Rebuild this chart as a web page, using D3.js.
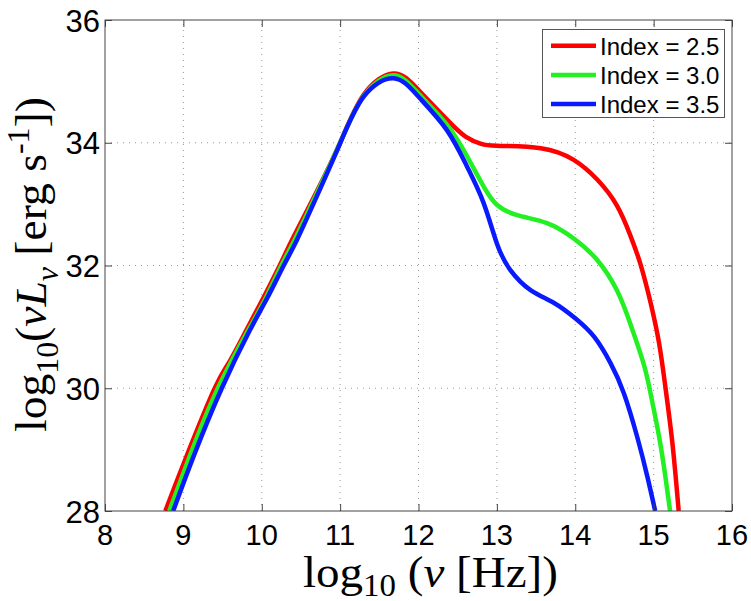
<!DOCTYPE html>
<html>
<head>
<meta charset="utf-8">
<script src="https://cdn.jsdelivr.net/npm/d3@7"></script>
<style>
  body { margin: 0; background: #fff; }
  svg { display: block; }
</style>
</head>
<body>
<div id="chart"></div>
<script>
// series: log10(nu) and log10(nu L_nu)
var redX   = [8.77, 9.04, 9.40, 9.60, 9.85, 10.02, 10.21, 10.40, 10.70, 11.00, 11.30, 11.68, 12.00, 12.36, 12.60, 12.80, 13.00, 13.56, 13.98, 14.28, 14.53, 14.70, 14.83, 14.96, 15.07, 15.15, 15.24, 15.32];
var redY   = [28.00, 28.89, 30.00, 30.46, 31.06, 31.47, 31.95, 32.45, 33.20, 34.00, 34.78, 35.13, 34.86, 34.38, 34.10, 33.98, 33.95, 33.91, 33.72, 33.40, 32.98, 32.50, 32.03, 31.40, 30.73, 30.02, 29.10, 28.00];
var greenX = [8.82, 9.08, 9.44, 9.85, 10.05, 10.25, 10.42, 10.70, 11.00, 11.30, 11.68, 12.00, 12.36, 12.62, 12.83, 13.00, 13.26, 13.64, 13.98, 14.28, 14.53, 14.70, 14.87, 14.96, 15.07, 15.15, 15.21];
var greenY = [28.00, 28.89, 30.00, 31.00, 31.47, 32.00, 32.42, 33.17, 34.00, 34.76, 35.10, 34.80, 34.30, 33.78, 33.29, 32.99, 32.82, 32.69, 32.44, 32.09, 31.60, 31.06, 30.41, 29.92, 29.21, 28.56, 28.00];
var blueX  = [8.87, 9.13, 9.49, 9.85, 10.07, 10.28, 10.45, 10.70, 11.00, 11.30, 11.68, 12.00, 12.36, 12.62, 12.83, 13.00, 13.17, 13.43, 13.73, 14.00, 14.24, 14.45, 14.62, 14.79, 14.92, 15.02];
var blueY  = [28.00, 28.89, 30.00, 30.95, 31.47, 32.00, 32.42, 33.12, 33.99, 34.75, 35.05, 34.75, 34.21, 33.61, 33.02, 32.36, 31.93, 31.60, 31.39, 31.14, 30.84, 30.41, 29.92, 29.21, 28.56, 28.00];

var seriesNames = ["Index = 2.5", "Index = 3.0", "Index = 3.5"];
var seriesColors = ["#ff0000", "#22f022", "#0a1aff"];
var xTicks = [8, 9, 10, 11, 12, 13, 14, 15, 16];
var yTicks = [28, 30, 32, 34, 36];

var width = 751, height = 601;
var margin = {top: 20, right: 19, bottom: 90, left: 105};
var plotW = width - margin.left - margin.right;   // 627
var plotH = height - margin.top - margin.bottom;  // 491

var svg = d3.select("#chart").append("svg")
    .attr("width", width)
    .attr("height", height);

svg.append("rect").attr("width", width).attr("height", height).attr("fill", "#fff");

var x = d3.scaleLinear().domain([8, 16]).range([margin.left, margin.left + plotW]);
var y = d3.scaleLinear().domain([28, 36]).range([margin.top + plotH, margin.top]);

// dotted grid
var grid = svg.append("g").attr("stroke", "#9a9a9a").attr("stroke-width", 1)
    .attr("stroke-dasharray", "1,5");
xTicks.slice(1, -1).forEach(function(t) {
    grid.append("line").attr("x1", x(t)).attr("x2", x(t))
        .attr("y1", y(28)).attr("y2", y(36));
});
yTicks.slice(1, -1).forEach(function(t) {
    grid.append("line").attr("x1", x(8)).attr("x2", x(16))
        .attr("y1", y(t)).attr("y2", y(t));
});

// curves
svg.append("clipPath").attr("id", "clip").append("rect")
    .attr("x", margin.left).attr("y", margin.top).attr("width", plotW).attr("height", plotH);

var line = d3.line()
    .x(function(d) { return x(d[0]); })
    .y(function(d) { return y(d[1]); })
    .curve(d3.curveNatural);

var series = [d3.zip(redX, redY), d3.zip(greenX, greenY), d3.zip(blueX, blueY)];
var curves = svg.append("g").attr("clip-path", "url(#clip)");
series.forEach(function(s, i) {
    curves.append("path")
        .attr("d", line(s))
        .attr("fill", "none")
        .attr("stroke", seriesColors[i])
        .attr("stroke-width", 4.5)
        .attr("stroke-linejoin", "round");
});

// frame and inward ticks on all four sides
var axisG = svg.append("g");
var tickLen = 7;
axisG.append("g").attr("transform", "translate(0," + y(28) + ")")
    .call(d3.axisTop(x).tickValues(xTicks).tickSize(tickLen).tickFormat(""));
axisG.append("g").attr("transform", "translate(0," + y(36) + ")")
    .call(d3.axisBottom(x).tickValues(xTicks).tickSize(tickLen).tickFormat(""));
axisG.append("g").attr("transform", "translate(" + x(8) + ",0)")
    .call(d3.axisRight(y).tickValues(yTicks).tickSize(tickLen).tickFormat(""));
axisG.append("g").attr("transform", "translate(" + x(16) + ",0)")
    .call(d3.axisLeft(y).tickValues(yTicks).tickSize(tickLen).tickFormat(""));
axisG.selectAll(".domain").remove();
axisG.selectAll(".tick line").attr("stroke", "#444").attr("stroke-width", 1);
svg.append("rect")
    .attr("x", x(8)).attr("y", y(36)).attr("width", plotW).attr("height", plotH)
    .attr("fill", "none").attr("stroke", "#444").attr("stroke-width", 1);

// tick labels
svg.append("g").selectAll("text").data(xTicks).join("text")
    .attr("x", function(d) { return x(d); })
    .attr("y", 545)
    .attr("text-anchor", "middle")
    .attr("font-family", "Liberation Sans, Arial, sans-serif")
    .attr("font-size", 29)
    .text(function(d) { return d; });
svg.append("g").selectAll("text").data(yTicks).join("text")
    .attr("x", 100)
    .attr("y", function(d) { return y(d) + 11.5; })
    .attr("text-anchor", "end")
    .attr("font-family", "Liberation Sans, Arial, sans-serif")
    .attr("font-size", 31)
    .text(function(d) { return d; });

// axis titles (LaTeX-like)
function mathLabel(parts, F, subShift) {
    var t = svg.append("text")
        .attr("font-family", "Liberation Serif, Times New Roman, serif")
        .attr("font-size", F);
    var shift = 0;
    parts.forEach(function(p) {
        var sp = t.append("tspan").text(p.t);
        var target = 0;
        if (p.sub) { sp.attr("font-size", F * 0.7); target = F * subShift; }
        if (p.sup) { sp.attr("font-size", F * 0.7); target = -F * 0.38; }
        if (p.it) sp.attr("font-style", "italic");
        if (target - shift !== 0) sp.attr("dy", target - shift);
        shift = target;
    });
    return t;
}

var xl = mathLabel([
    {t: "log"}, {t: "10", sub: true}, {t: " ("}, {t: "\u03bd", it: true},
    {t: " [Hz]"}, {t: ")"}
], 45, 0.2);
var xw = xl.node().getBBox().width;
xl.attr("transform", "translate(303,587) scale(" + (255 / xw) + ",1)");

var yl = mathLabel([
    {t: "log"}, {t: "10", sub: true}, {t: "("}, {t: "\u03bd", it: true},
    {t: "L", it: true}, {t: "\u03bd", it: true, sub: true}, {t: " [erg s"},
    {t: "-1", sup: true}, {t: "])"}
], 45, 0.26);
var yw = yl.node().getBBox().width;
yl.attr("transform", "translate(46,432) rotate(-90) scale(" + (335 / yw) + ",1)");

// legend
var leg = svg.append("g");
leg.append("rect").attr("x", 542.5).attr("y", 29.5).attr("width", 182).attr("height", 88)
    .attr("fill", "#fff").attr("stroke", "#555").attr("stroke-width", 1);
var legRows = [45.7, 75, 104];
seriesNames.forEach(function(name, i) {
    leg.append("line").attr("x1", 551).attr("x2", 596)
        .attr("y1", legRows[i]).attr("y2", legRows[i])
        .attr("stroke", seriesColors[i]).attr("stroke-width", 4.5);
    leg.append("text").attr("x", 600).attr("y", legRows[i] + 9)
        .attr("font-family", "Liberation Sans, Arial, sans-serif")
        .attr("font-size", 24)
        .text(name);
});
</script>
</body>
</html>
